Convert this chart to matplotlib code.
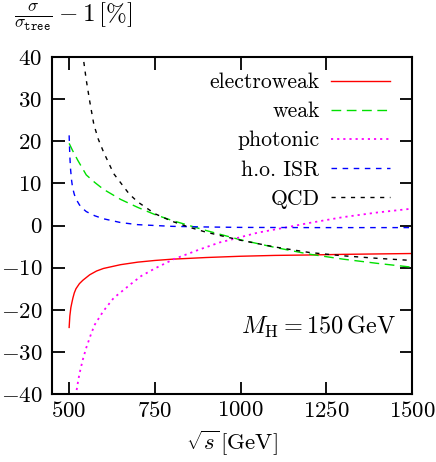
import matplotlib
matplotlib.use("Agg")
import matplotlib.pyplot as plt
from matplotlib.ticker import FixedLocator, FuncFormatter

plt.rcParams['font.family'] = ['cmr10']
plt.rcParams['mathtext.fontset'] = 'cm'
plt.rcParams['axes.unicode_minus'] = True

# Data
ew_x = [500, 502, 505, 508, 511, 515, 520, 530, 540, 560, 580, 600, 650, 700, 750, 800, 900, 1000, 1100, 1200, 1300, 1400, 1500]
ew_y = [-24.2, -21.5, -19.5, -18.3, -17.2, -16.0, -15.0, -13.8, -13.0, -11.7, -10.8, -10.2, -9.3, -8.7, -8.3, -8.0, -7.6, -7.3, -7.1, -7.0, -6.85, -6.75, -6.65]

weak_x = [500, 510, 525, 550, 575, 600, 650, 700, 750, 800, 850, 900, 1000, 1100, 1200, 1300, 1400, 1500]
weak_y = [19.5, 17.8, 15.5, 12.0, 10.2, 8.6, 6.2, 4.3, 2.6, 1.2, 0.0, -1.2, -3.4, -5.2, -6.8, -8.0, -9.0, -9.9]

phot_x = [519, 525, 530, 540, 550, 565, 575, 600, 630, 680, 710, 750, 805, 880, 940, 970, 1050, 1136, 1200, 1300, 1400, 1500]
phot_y = [-40.5, -37.5, -35.2, -31.8, -29.0, -25.5, -23.5, -20.3, -17.2, -13.9, -12.0, -10.2, -8.0, -5.7, -4.0, -3.4, -1.7, -0.4, 0.6, 2.0, 3.1, 4.0]

isr_x = [500, 502, 504, 507, 510, 515, 520, 530, 540, 550, 575, 600, 650, 700, 800, 900, 1000, 1200, 1500]
isr_y = [21.4, 16.5, 13.5, 10.8, 9.0, 7.4, 6.3, 4.9, 4.0, 3.3, 2.3, 1.6, 0.7, 0.2, -0.2, -0.35, -0.45, -0.5, -0.5]

qcd_x = [530, 540, 550, 560, 572, 585, 600, 630, 675, 700, 750, 800, 850, 900, 1000, 1100, 1200, 1300, 1400, 1500]
qcd_y = [48.0, 40.5, 34.5, 29.5, 24.0, 20.5, 17.5, 12.3, 7.5, 5.6, 2.8, 1.0, -0.4, -1.6, -3.5, -5.1, -6.4, -7.2, -7.8, -8.3]

labels = ["electroweak", "weak", "photonic", "h.o. ISR", "QCD"]
xticks = [500, 750, 1000, 1250, 1500]
yticks = [-40, -30, -20, -10, 0, 10, 20, 30, 40]

fig = plt.figure(figsize=(4.36, 4.62), dpi=100)
ax = fig.add_axes([52/436, 1-394/462, 360/436, 337/462])

lw = 1.0
ax.plot(ew_x, ew_y, color='#ff0000', lw=lw, ls='-', label=labels[0])
ax.plot(weak_x, weak_y, color='#00e000', lw=lw, ls=(0, (7, 4)), label=labels[1])
ax.plot(phot_x, phot_y, color='#ff00ff', lw=1.3, ls=(0, (1.2, 2.2)), label=labels[2])
ax.plot(isr_x, isr_y, color='#0000ff', lw=lw, ls=(0, (4, 4)), label=labels[3])
ax.plot(qcd_x, qcd_y, color='#000000', lw=lw, ls=(0, (3, 4)), label=labels[4])

ax.set_xlim(450, 1500)
ax.set_ylim(-40, 40)
ax.xaxis.set_major_locator(FixedLocator(xticks))
ax.yaxis.set_major_locator(FixedLocator(yticks))
fmt = FuncFormatter(lambda v, p: r'$%d$' % v)
ax.xaxis.set_major_formatter(fmt)
ax.yaxis.set_major_formatter(fmt)
ax.tick_params(direction='in', length=9, width=1.3, top=True, right=True,
               labelsize=16.5)
ax.tick_params(axis='x', pad=5)
ax.tick_params(axis='y', pad=7)
for s in ax.spines.values():
    s.set_linewidth(1.5)

leg = ax.legend(loc='upper right', bbox_to_anchor=(0.981, 0.998), frameon=False,
                markerfirst=False, fontsize=15.6, handlelength=2.7,
                labelspacing=0.44, handletextpad=0.55, borderaxespad=0.3)

ax.text(0.955, 0.2, r'$M_{\mathrm{H}} = 150\,\mathrm{GeV}$', transform=ax.transAxes,
        ha='right', va='center', fontsize=17.5)

fig.text(73/436, 1-17/462, r'$\frac{\sigma}{\sigma_{\mathtt{tree}}} - 1\,[\%]$',
         ha='center', va='center', fontsize=18)
fig.text(232/436, 1-443/462, r'$\sqrt{s}\,[\mathrm{GeV}]$', ha='center', va='center',
         fontsize=16.5)

fig.savefig('out.png', dpi=100)
